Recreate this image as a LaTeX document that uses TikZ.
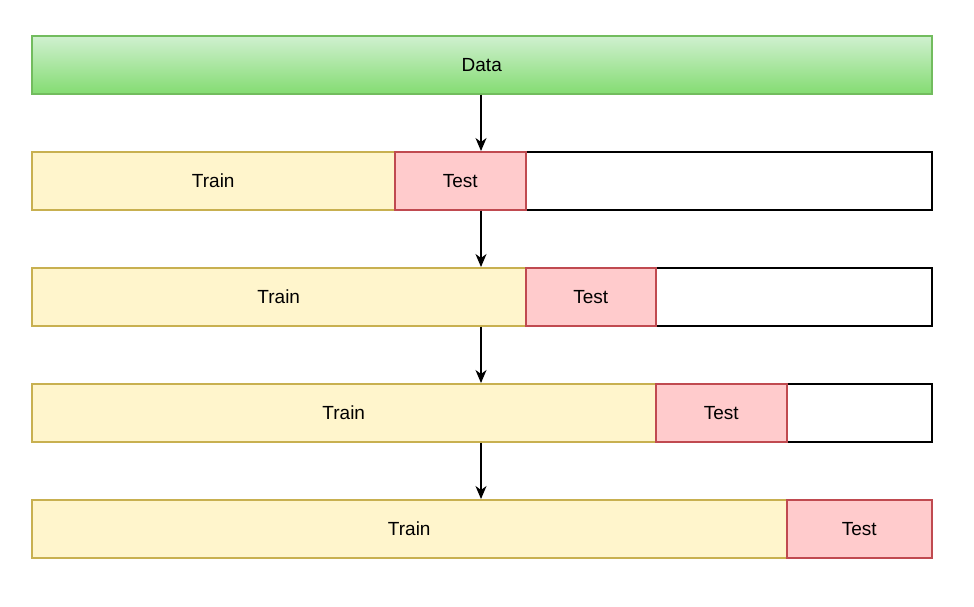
\documentclass[tikz,border=0pt]{standalone}
\usepackage{fontspec}
\setmainfont{Liberation Sans}
\usetikzlibrary{arrows.meta}
\definecolor{trainfill}{HTML}{FFF5CC}
\definecolor{traindraw}{HTML}{C8B050}
\definecolor{testfill}{HTML}{FFCBCC}
\definecolor{testdraw}{HTML}{C04A50}
\definecolor{datatop}{HTML}{D0F0D0}
\definecolor{databot}{HTML}{84DC72}
\definecolor{datadraw}{HTML}{72BC5E}
\begin{document}
\begin{tikzpicture}[x=1pt,y=-1pt,
  box/.style={rectangle,inner sep=0pt,anchor=north west,minimum height=58pt,line width=1.5pt,font=\fontsize{19}{22}\selectfont},
  trainbox/.style={box,fill=trainfill,draw=traindraw},
  testbox/.style={box,fill=testfill,draw=testdraw},
  emptybox/.style={box,fill=white,draw=black},
  databox/.style={box,top color=datatop,bottom color=databot,draw=datadraw},
  arr/.style={-{Stealth[length=13pt,width=11pt,inset=4pt]},line width=1.3pt,black}]
\useasboundingbox (0,0) rectangle (974,606);
\node[databox,minimum width=900pt] (data) at (31,35) {Data};
% row 1
\node[emptybox,minimum width=900pt] (e1) at (31,151) {};
\node[trainbox,minimum width=363pt] (tr1) at (31,151) {Train};
\node[testbox,minimum width=131pt] (te1) at (394,151) {Test};
% row 2
\node[emptybox,minimum width=900pt] (e2) at (31,267) {};
\node[trainbox,minimum width=494pt] (tr2) at (31,267) {Train};
\node[testbox,minimum width=130pt] (te2) at (525,267) {Test};
% row 3
\node[emptybox,minimum width=900pt] (e3) at (31,383) {};
\node[trainbox,minimum width=624pt] (tr3) at (31,383) {Train};
\node[testbox,minimum width=131pt] (te3) at (655,383) {Test};
% row 4
\node[trainbox,minimum width=755pt] (tr4) at (31,499) {Train};
\node[testbox,minimum width=145pt] (te4) at (786,499) {Test};
% arrows
\coordinate (a0) at (481,93);
\draw[arr] (data.south -| a0) -- (e1.north -| a0);
\draw[arr] (e1.south -| a0) -- (e2.north -| a0);
\draw[arr] (e2.south -| a0) -- (e3.north -| a0);
\draw[arr] (e3.south -| a0) -- (tr4.north -| a0);
\end{tikzpicture}
\end{document}
